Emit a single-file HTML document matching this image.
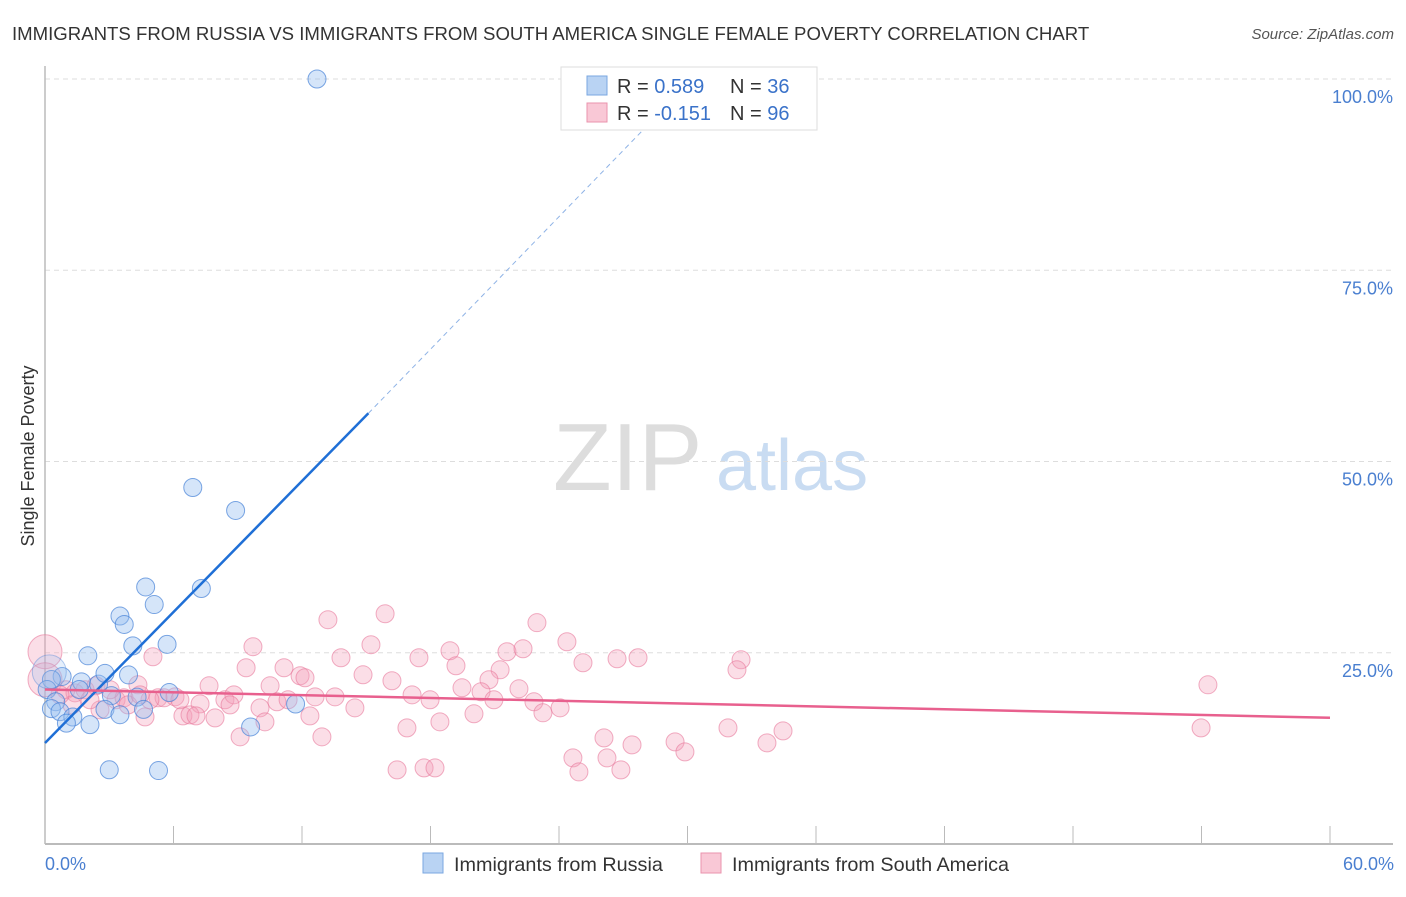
<!DOCTYPE html>
<html><head><meta charset="utf-8"><style>
body{margin:0;background:#fff;font-family:"Liberation Sans",sans-serif}
svg text{font-family:"Liberation Sans",sans-serif}
</style></head><body>
<svg id="chart" width="1406" height="892" xmlns="http://www.w3.org/2000/svg">
<text x="12" y="40" font-size="18.6" fill="#333">IMMIGRANTS FROM RUSSIA VS IMMIGRANTS FROM SOUTH AMERICA SINGLE FEMALE POVERTY CORRELATION CHART</text>
<text x="1394" y="39" font-size="15" fill="#555" text-anchor="end" font-style="italic">Source: ZipAtlas.com</text>
<text transform="translate(34,456) rotate(-90)" font-size="18" fill="#333" text-anchor="middle">Single Female Poverty</text>
<g>
<text x="553" y="490" font-size="96" fill="#ddd" font-family="Liberation Serif">ZIP</text>
<text x="716" y="490" font-size="72" fill="#c9dcf2">atlas</text>
</g>
<g id="grid"></g><g id="axes"></g><g id="pts"></g><g id="trend"></g>
<g>
<rect x="561" y="67" width="256" height="63" fill="#fff" stroke="#ddd"/>
<rect x="587" y="76" width="20" height="19" fill="#b9d3f3" stroke="#7aa7e0"/>
<rect x="587" y="103" width="20" height="19" fill="#f9c8d6" stroke="#ea93ad"/>
<text x="617" y="93" font-size="20" fill="#333">R = <tspan fill="#3a72c9">0.589</tspan></text>
<text x="730" y="93" font-size="20" fill="#333">N = <tspan fill="#3a72c9">36</tspan></text>
<text x="617" y="120" font-size="20" fill="#333">R = <tspan fill="#3a72c9">-0.151</tspan></text>
<text x="730" y="120" font-size="20" fill="#333">N = <tspan fill="#3a72c9">96</tspan></text>
</g>
<g>
<rect x="423" y="853" width="20" height="20" fill="#b9d3f3" stroke="#7aa7e0"/>
<text x="454" y="871" font-size="19.8" fill="#333">Immigrants from Russia</text>
<rect x="701" y="853" width="20" height="20" fill="#f9c8d6" stroke="#ea93ad"/>
<text x="732" y="871" font-size="19.8" fill="#333">Immigrants from South America</text>
</g>
</svg>
<script>
const xTicks=[0,6,12,18,24,30,36,42,48,54,60];
const yTicks=[25,50,75,100];
const yTickLabels=["25.0%","50.0%","75.0%","100.0%"];
const russiaX=[12.7,6.9,8.9,4.7,7.3,5.1,3.5,3.7,4.1,5.7,2.0,0.8,0.3,1.7,2.5,2.8,3.9,0.1,3.1,4.3,5.8,0.5,0.3,0.7,1.3,2.8,3.5,4.6,1.0,2.1,11.7,9.6,3.0,5.3,0.2,1.6];
const russiaY=[100,46.6,43.6,33.6,33.4,31.3,29.8,28.7,25.9,26.1,24.6,21.9,21.5,21.2,20.9,22.3,22.1,20.2,19.4,19.2,19.8,18.6,17.7,17.3,16.6,17.6,16.9,17.6,15.8,15.6,18.3,15.3,9.7,9.6,22.5,20.2];
const russiaR=[9,9,9,9,9,9,9,9,9,9,9,9,9,9,9,9,9,9,9,9,9,9,9,9,9,9,9,9,9,9,9,9,9,9,17,9];
const saPx=[[45,652],[45,680],[385,614],[328,620],[537,623],[253,647],[567,642],[371,645],[450,651],[507,652],[523,649],[153,657],[341,658],[419,658],[617,659],[638,658],[741,660],[246,668],[284,668],[456,666],[500,670],[583,663],[737,670],[300,676],[305,678],[363,675],[392,681],[489,680],[138,685],[209,686],[270,686],[462,688],[481,692],[519,689],[412,695],[430,700],[66,690],[75,693],[85,690],[96,686],[116,700],[124,698],[158,698],[164,698],[175,697],[200,704],[225,700],[234,695],[277,702],[288,700],[315,697],[335,697],[494,700],[534,702],[560,708],[543,713],[260,708],[355,708],[183,716],[190,715],[196,716],[215,718],[145,717],[265,722],[310,716],[407,728],[440,722],[474,714],[728,728],[1208,685],[1201,728],[240,737],[322,737],[604,738],[675,742],[397,770],[424,768],[435,768],[573,758],[579,772],[607,758],[621,770],[632,745],[685,752],[767,743],[783,731],[72,705],[100,710],[150,700],[128,705],[60,695],[110,690],[180,700],[230,705],[90,700],[140,695]];
const saX=saPx.map(p=>+((p[0]-45)/1285*60).toFixed(2));
const saY=saPx.map(p=>+((844-p[1])/191*25).toFixed(2));
const saR=saX.map((v,i)=>i<2?17:9);
const russiaTrend=[[0,13.2],[15.1,56.3]];
const russiaTrendExt=[[15.1,56.3],[28.5,95]];
const saTrend=[[0,20.2],[60,16.5]];

const X0=45,X1=1330,Y0=844,YTOP=79;
const sx=v=>X0+(v/60)*(X1-X0);
const sy=v=>Y0-(v/100)*(Y0-YTOP);
const NS="http://www.w3.org/2000/svg";
function mk(tag,attrs,parent){const e=document.createElementNS(NS,tag);for(const k in attrs)e.setAttribute(k,attrs[k]);parent.appendChild(e);return e;}
const grid=document.getElementById('grid'),axes=document.getElementById('axes'),pts=document.getElementById('pts'),trend=document.getElementById('trend');
yTicks.forEach((t,i)=>{
  const l=mk('line',{x1:X0,x2:1393,y1:sy(t),y2:sy(t),stroke:'#ddd','stroke-dasharray':'5,4'},grid);
  
  
  const tx=mk('text',{x:1393,y:sy(t)+24,'font-size':18,fill:'#4a7fd0','text-anchor':'end'},axes);
  tx.textContent=yTickLabels[i];
  
  
});
const xa=mk('line',{x1:X0,x2:1393,y1:Y0,y2:Y0,stroke:'#bbb','stroke-width':2},axes);


const ya=mk('line',{x1:X0,x2:X0,y1:66,y2:Y0,stroke:'#bbb','stroke-width':1.5},axes);


xTicks.forEach(t=>{
  const l=mk('line',{x1:sx(t),x2:sx(t),y1:826,y2:Y0,stroke:'#bbb'},axes);
  
  
});
[[0,'0.0%','start',45],[60,'60.0%','end',1394]].forEach(a=>{
  const tx=mk('text',{x:a[3],y:870,'font-size':18,fill:'#4a7fd0','text-anchor':a[2]},axes);
  tx.textContent=a[1];
  
  
});
saX.forEach((v,i)=>{
  const c=mk('circle',{cx:sx(v),cy:sy(saY[i]),r:saR[i],fill:'rgba(244,160,187,0.35)',stroke:'rgba(232,120,155,0.6)','stroke-width':1},pts);
  
  
});
russiaX.forEach((v,i)=>{
  const big=russiaR[i]>10;
  const c=mk('circle',{cx:sx(v),cy:sy(russiaY[i]),r:russiaR[i],fill:big?'rgba(150,190,240,0.25)':'rgba(150,190,240,0.4)',stroke:big?'rgba(70,130,215,0.4)':'rgba(70,130,215,0.7)','stroke-width':1},pts);
  
  
});
const t1=mk('line',{x1:sx(russiaTrend[0][0]),y1:sy(russiaTrend[0][1]),x2:sx(russiaTrend[1][0]),y2:sy(russiaTrend[1][1]),stroke:'#1f6fd6','stroke-width':2.5},trend);


const t2=mk('line',{x1:sx(russiaTrendExt[0][0]),y1:sy(russiaTrendExt[0][1]),x2:sx(russiaTrendExt[1][0]),y2:sy(russiaTrendExt[1][1]),stroke:'#8fb3e6','stroke-width':1,'stroke-dasharray':'5,4'},trend);


const t3=mk('line',{x1:sx(saTrend[0][0]),y1:sy(saTrend[0][1]),x2:sx(saTrend[1][0]),y2:sy(saTrend[1][1]),stroke:'#e8608e','stroke-width':2.5},trend);


</script>
</body></html>
